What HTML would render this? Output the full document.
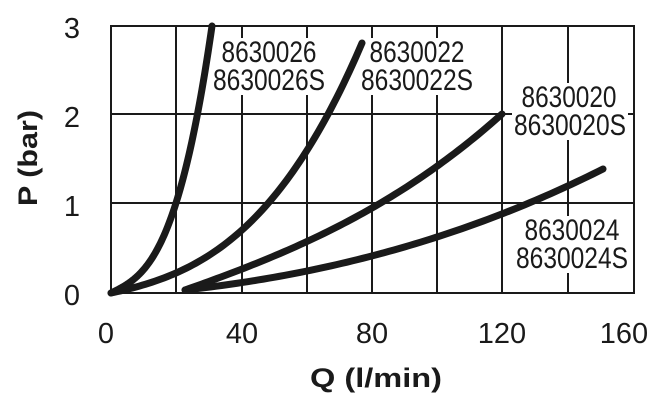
<!DOCTYPE html>
<html><head><meta charset="utf-8"><style>
html,body{margin:0;padding:0;background:#fff;}
svg{display:block;}
text{font-family:"Liberation Sans",sans-serif;fill:#1a1a1a;}
</style></head><body>
<svg width="659" height="406" viewBox="0 0 659 406" xmlns="http://www.w3.org/2000/svg">
<g stroke="#1a1a1a" stroke-width="2" fill="none">
<rect x="111" y="26" width="523" height="267"/>
<line x1="176" y1="26" x2="176" y2="293"/>
<line x1="242" y1="26" x2="242" y2="293"/>
<line x1="307" y1="26" x2="307" y2="293"/>
<line x1="372" y1="26" x2="372" y2="293"/>
<line x1="437" y1="26" x2="437" y2="293"/>
<line x1="502" y1="26" x2="502" y2="293"/>
<line x1="568" y1="26" x2="568" y2="293"/>
<line x1="111" y1="114" x2="634" y2="114"/>
<line x1="111" y1="203" x2="634" y2="203"/>
</g>
<g fill="#fff">
<rect x="212" y="38" width="115" height="57"/>
<rect x="361" y="38" width="115" height="57"/>
<rect x="512" y="83" width="116" height="57"/>
<rect x="514" y="216" width="116" height="57"/>
</g>
<g font-size="30" text-anchor="middle">
<text x="269" y="62" textLength="95" lengthAdjust="spacingAndGlyphs">8630026</text>
<text x="269" y="90" textLength="112" lengthAdjust="spacingAndGlyphs">8630026S</text>
<text x="417" y="62" textLength="95" lengthAdjust="spacingAndGlyphs">8630022</text>
<text x="417" y="90" textLength="112" lengthAdjust="spacingAndGlyphs">8630022S</text>
<text x="569" y="107" textLength="95" lengthAdjust="spacingAndGlyphs">8630020</text>
<text x="570" y="135" textLength="112" lengthAdjust="spacingAndGlyphs">8630020S</text>
<text x="572" y="240" textLength="95" lengthAdjust="spacingAndGlyphs">8630024</text>
<text x="572" y="268" textLength="112" lengthAdjust="spacingAndGlyphs">8630024S</text>
</g>
<g stroke="#1a1a1a" stroke-width="7" fill="none" stroke-linecap="round" stroke-linejoin="round">
<path id="c1"/><path id="c2"/><path id="c3"/><path id="c4"/>
</g>
<g font-size="29" text-anchor="middle">
<text x="72" y="38">3</text>
<text x="72" y="127">2</text>
<text x="72" y="216">1</text>
<text x="72" y="305">0</text>
<text x="106" y="343">0</text>
<text x="242" y="343">40</text>
<text x="372" y="343">80</text>
<text x="502" y="343">120</text>
<text x="624" y="343">160</text>
</g>
<text x="376" y="387" font-size="27" font-weight="bold" text-anchor="middle" textLength="132" lengthAdjust="spacingAndGlyphs">Q  (l/min)</text>
<text transform="translate(37,158) rotate(-90)" font-size="27" font-weight="bold" text-anchor="middle" textLength="96" lengthAdjust="spacingAndGlyphs">P (bar)</text>
</svg>
<script>
function draw(id,x0,y0,a,b,c,qend){
  var d="",N=80;
  for(var i=0;i<=N;i++){var t=qend*i/N,dy=Math.max(0,a*t+b*t*t+c*t*t*t);
    d+=(i?" L":"M")+(x0+t).toFixed(2)+","+(y0-dy).toFixed(2);}
  document.getElementById(id).setAttribute("d",d);
}
function curve(id,x0,y0,pts,qend){
  var q=pts.map(function(p){return p[0];}),r=pts.map(function(p){return p[1]/p[0];});
  var s1=(r[1]-r[0])/(q[1]-q[0]),s2=(r[2]-r[1])/(q[2]-q[1]);
  var c=(s2-s1)/(q[2]-q[0]),b=s1-c*(q[0]+q[1]),a=r[0]-b*q[0]-c*q[0]*q[0];
  draw(id,x0,y0,a,b,c,qend);
}
draw("c1",111,293,0.494,0,2.107e-4,101);
curve("c2",111,293,[[65,20],[131,63],[251,250]],251);
curve("c3",185,290,[[57,21],[187,82],[317,176]],317);
curve("c4",185,290,[[122,19],[252,53],[418,121]],418);
</script>
</body></html>
